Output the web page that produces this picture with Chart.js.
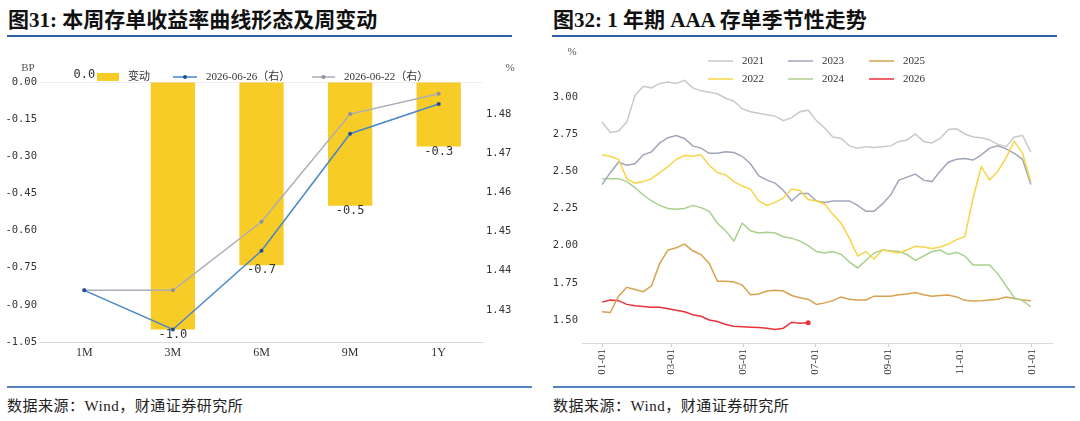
<!DOCTYPE html>
<html>
<head>
<meta charset="utf-8">
<script src="https://cdn.jsdelivr.net/npm/chart.js@4.4.0/dist/chart.umd.min.js"></script>
<style>
  body { margin: 0; background: #fff; width: 1080px; height: 421px; position: relative; overflow: hidden;
         font-family: "Liberation Serif", "Noto Sans CJK SC", serif; }
  .title { position: absolute; top: 8px; font-size: 21px; line-height: 24px; font-weight: bold; color: #111; white-space: nowrap; }
  .rule { position: absolute; height: 2px; }
  .src { position: absolute; top: 396px; font-size: 15px; line-height: 20px; color: #222; letter-spacing: 0.5px; white-space: nowrap; }
  canvas { position: absolute; top: 40px; }
</style>
</head>
<body>
<div class="title" style="left:8px">图31: 本周存单收益率曲线形态及周变动</div>
<div class="rule" style="left:7px;width:505px;top:35px;background:#2E62A8"></div>
<div class="title" style="left:553px">图32: 1 年期 AAA 存单季节性走势</div>
<div class="rule" style="left:552px;width:505px;top:35px;background:#2E62A8"></div>

<canvas id="curve" width="540" height="340" style="left:0"></canvas>
<canvas id="season" width="540" height="340" style="left:540px"></canvas>

<div class="rule" style="left:7px;width:525px;top:386px;background:#5582BE"></div>
<div class="rule" style="left:553px;width:522px;top:386px;background:#5582BE"></div>
<div class="src" style="left:7px">数据来源：Wind，财通证券研究所</div>
<div class="src" style="left:553px">数据来源：Wind，财通证券研究所</div>

<script>
// ---- fig 31 data
const tenors = ['1M', '3M', '6M', '9M', '1Y'];
const weeklyChange = [0.0, -1.0, -0.74, -0.5, -0.26];      // BP
const rate0626 = [1.4350, 1.4250, 1.4451, 1.4750, 1.4826]; // %
const rate0622 = [1.4350, 1.4350, 1.4525, 1.4800, 1.4852]; // %
const bpTicks = [-1.05, -0.90, -0.75, -0.60, -0.45, -0.30, -0.15, 0.00];
const pctTicks = [1.43, 1.44, 1.45, 1.46, 1.47, 1.48];

// ---- fig 32 data (weekly, day of year)
const days = [0, 7, 14, 21, 28, 35, 42, 49, 56, 63, 70, 77, 84, 91, 98, 105, 112, 119, 126, 133,
  140, 147, 154, 161, 168, 175, 182, 189, 196, 203, 210, 217, 224, 231, 238, 245, 252, 259, 266,
  273, 280, 287, 294, 301, 308, 315, 322, 329, 336, 343, 350, 357, 364];
const y2021 = [2.83, 2.76, 2.77, 2.83, 3.01, 3.07, 3.06, 3.09, 3.10, 3.09, 3.11, 3.06, 3.04, 3.03,
  3.02, 2.99, 2.97, 2.92, 2.90, 2.89, 2.88, 2.87, 2.84, 2.86, 2.90, 2.91, 2.84, 2.79, 2.73, 2.72,
  2.67, 2.655, 2.665, 2.66, 2.665, 2.67, 2.70, 2.71, 2.75, 2.70, 2.69, 2.72, 2.78, 2.785, 2.75,
  2.73, 2.725, 2.71, 2.68, 2.665, 2.73, 2.74, 2.63];
const y2022 = [2.61, 2.60, 2.58, 2.45, 2.42, 2.43, 2.45, 2.49, 2.53, 2.58, 2.605, 2.60, 2.61, 2.54,
  2.49, 2.475, 2.43, 2.40, 2.38, 2.30, 2.27, 2.29, 2.32, 2.38, 2.37, 2.31, 2.30, 2.28, 2.21, 2.15,
  2.05, 1.93, 1.96, 1.91, 1.97, 1.96, 1.95, 1.97, 1.995, 1.99, 1.98, 1.99, 2.01, 2.04, 2.06, 2.32,
  2.53, 2.44, 2.50, 2.59, 2.70, 2.62, 2.43];
const y2023 = [2.41, 2.49, 2.56, 2.54, 2.55, 2.61, 2.63, 2.69, 2.725, 2.74, 2.72, 2.67, 2.655, 2.62,
  2.62, 2.63, 2.625, 2.60, 2.55, 2.47, 2.44, 2.42, 2.37, 2.30, 2.35, 2.35, 2.30, 2.29, 2.30, 2.30,
  2.30, 2.27, 2.23, 2.23, 2.28, 2.34, 2.44, 2.46, 2.48, 2.44, 2.43, 2.50, 2.56, 2.58, 2.585, 2.575,
  2.61, 2.655, 2.67, 2.65, 2.62, 2.58, 2.41];
const y2024 = [2.45, 2.45, 2.45, 2.43, 2.39, 2.34, 2.30, 2.27, 2.25, 2.245, 2.25, 2.27, 2.255, 2.23,
  2.15, 2.10, 2.03, 2.15, 2.10, 2.085, 2.09, 2.085, 2.06, 2.05, 2.03, 2.00, 1.96, 1.95, 1.96, 1.94,
  1.89, 1.85, 1.90, 1.95, 1.97, 1.965, 1.96, 1.94, 1.90, 1.93, 1.96, 1.97, 1.94, 1.955, 1.93, 1.87,
  1.87, 1.87, 1.81, 1.73, 1.65, 1.63, 1.59];
const y2025 = [1.555, 1.55, 1.66, 1.72, 1.705, 1.69, 1.73, 1.88, 1.97, 1.985, 2.01, 1.965, 1.94,
  1.88, 1.76, 1.76, 1.755, 1.735, 1.67, 1.675, 1.695, 1.70, 1.695, 1.665, 1.65, 1.64, 1.605, 1.615,
  1.63, 1.655, 1.64, 1.635, 1.635, 1.66, 1.66, 1.66, 1.67, 1.675, 1.685, 1.67, 1.66, 1.665, 1.668,
  1.655, 1.632, 1.628, 1.63, 1.635, 1.64, 1.655, 1.645, 1.635, 1.63];
const y2026 = [1.62, 1.635, 1.63, 1.605, 1.595, 1.59, 1.585, 1.585, 1.575, 1.565, 1.555, 1.535,
  1.525, 1.50, 1.49, 1.47, 1.458, 1.455, 1.452, 1.45, 1.445, 1.437, 1.445, 1.485, 1.478, 1.482];
const seasonTickDays = [0, 59, 120, 181, 243, 304, 365];
const seasonTickLabels = ['01-01', '03-01', '05-01', '07-01', '09-01', '11-01', '01-01'];
const rateTicks = [1.50, 1.75, 2.00, 2.25, 2.50, 2.75, 3.00];

const numFont = { family: '"DejaVu Sans Mono", monospace', size: 10.5 };
const serifFont = '11px "Liberation Serif", "Noto Sans CJK SC"';

// legend + unit labels, drawn by hand so the layout matches the report
const handLegend = {
  id: 'handLegend',
  afterDraw(chart, args, opts) {
    const ctx = chart.ctx;
    ctx.save();
    ctx.font = serifFont;
    ctx.textBaseline = 'middle';
    chart.data.datasets.forEach((ds, i) => {
      const s = opts.slots[i];
      if (ds.type === 'bar') {
        ctx.fillStyle = ds.backgroundColor;
        ctx.fillRect(s.x, s.y - 4, s.w, 8);
      } else {
        ctx.strokeStyle = ds.borderColor;
        ctx.lineWidth = 1.5;
        ctx.beginPath();
        ctx.moveTo(s.x, s.y);
        ctx.lineTo(s.x + s.w, s.y);
        ctx.stroke();
        if (opts.dots) {
          ctx.fillStyle = ds.pointBackgroundColor;
          ctx.beginPath();
          ctx.arc(s.x + s.w / 2, s.y, 2, 0, Math.PI * 2);
          ctx.fill();
        }
      }
      ctx.fillStyle = '#333';
      ctx.textAlign = 'left';
      ctx.fillText(ds.label, s.x + s.w + opts.gap, s.y);
    });
    ctx.fillStyle = '#555';
    ctx.textAlign = 'center';
    opts.units.forEach(u => ctx.fillText(u.text, u.x, u.y));
    ctx.restore();
  }
};

const barValues = {
  id: 'barValues',
  afterDatasetsDraw(chart) {
    const ctx = chart.ctx;
    const meta = chart.getDatasetMeta(0);
    ctx.save();
    ctx.font = '12px "DejaVu Sans Mono", monospace';
    ctx.fillStyle = '#333';
    ctx.textAlign = 'center';
    ctx.textBaseline = 'middle';
    meta.data.forEach((bar, i) => {
      const v = weeklyChange[i];
      ctx.fillText(v.toFixed(1), bar.x, v < 0 ? bar.y + 5 : bar.y - 7);
    });
    ctx.restore();
  }
};

new Chart(document.getElementById('curve'), {
  data: {
    labels: tenors,
    datasets: [
      { type: 'bar', label: '变动', data: weeklyChange, yAxisID: 'y', order: 3,
        backgroundColor: '#F8CC26', barPercentage: 0.5, categoryPercentage: 1 },
      { type: 'line', label: '2026-06-26（右）', data: rate0626, yAxisID: 'y1', order: 1,
        borderColor: '#4A86C8', borderWidth: 1.5, pointRadius: 2, pointBorderWidth: 0,
        pointBackgroundColor: '#1F4E9B' },
      { type: 'line', label: '2026-06-22（右）', data: rate0622, yAxisID: 'y1', order: 2,
        borderColor: '#A9ADB9', borderWidth: 1.5, pointRadius: 2, pointBorderWidth: 0,
        pointBackgroundColor: '#8C919E' },
    ],
  },
  options: {
    responsive: false,
    animation: false,
    events: [],
    layout: { padding: { top: 42, left: 0, right: 0, bottom: 0 } },
    scales: {
      x: {
        grid: { display: false, drawTicks: false },
        border: { display: true, color: '#DADADA' },
        ticks: { padding: 4, color: '#333', font: { family: '"Liberation Serif"', size: 12 } },
        afterFit: s => { s.height = 38; },
      },
      y: {
        position: 'left',
        min: -1.05, max: 0,
        afterBuildTicks: s => { s.ticks = bpTicks.map(v => ({ value: v })); },
        grid: { drawTicks: false, color: c => (c.tick && c.tick.value === 0 ? '#EFEFEF' : 'rgba(0,0,0,0)') },
        border: { display: false },
        ticks: { padding: 3, color: '#333', font: numFont, callback: v => v.toFixed(2) },
        afterFit: s => { s.width = 40; },
      },
      y1: {
        position: 'right',
        min: 1.4218, max: 1.4882,
        afterBuildTicks: s => { s.ticks = pctTicks.map(v => ({ value: v })); },
        grid: { display: false, drawTicks: false },
        border: { display: false },
        ticks: { padding: 3, color: '#333', font: numFont, callback: v => v.toFixed(2) },
        afterFit: s => { s.width = 57; },
      },
    },
    plugins: {
      legend: { display: false },
      tooltip: { enabled: false },
      handLegend: {
        gap: 9, dots: true,
        slots: [{ x: 97, y: 37, w: 22 }, { x: 173, y: 37, w: 24 }, { x: 312, y: 37, w: 23 }],
        units: [{ text: 'BP', x: 28, y: 28 }, { text: '%', x: 510, y: 28 }],
      },
    },
  },
  plugins: [handLegend, barValues],
});

const series = [
  ['2021', y2021, '#C9C9C9'],
  ['2022', y2022, '#F6D548'],
  ['2023', y2023, '#A0A5BA'],
  ['2024', y2024, '#AAD08E'],
  ['2025', y2025, '#D6A24E'],
  ['2026', y2026, '#E8333A'],
];

new Chart(document.getElementById('season'), {
  type: 'line',
  data: {
    datasets: series.map(([name, vals, color]) => ({
      type: 'line',
      label: name,
      data: vals.map((v, i) => ({ x: days[i], y: v })),
      borderColor: color,
      pointBackgroundColor: color,
      borderWidth: 1.5,
      pointBorderWidth: 0,
      pointRadius: c => (name === '2026' && c.dataIndex === vals.length - 1 ? 2.5 : 0),
    })),
  },
  options: {
    responsive: false,
    animation: false,
    events: [],
    layout: { padding: { top: 30, left: 0, right: 28, bottom: 0 } },
    scales: {
      x: {
        type: 'linear',
        min: -17, max: 382,
        afterBuildTicks: s => { s.ticks = seasonTickDays.map(v => ({ value: v })); },
        grid: { display: true, drawOnChartArea: false, drawTicks: true, tickLength: 4, color: '#D0D0D0' },
        border: { display: true, color: '#DADADA' },
        ticks: { padding: 2, minRotation: 90, maxRotation: 90, color: '#333',
                 font: { family: '"Liberation Serif"', size: 11 },
                 callback: (v, i) => seasonTickLabels[i] },
        afterFit: s => { s.height = 37; },
      },
      y: {
        min: 1.3454, max: 3.18,
        afterBuildTicks: s => { s.ticks = rateTicks.map(v => ({ value: v })); },
        grid: { display: false, drawTicks: false },
        border: { display: false },
        ticks: { padding: 4, color: '#333', font: numFont, callback: v => v.toFixed(2) },
        afterFit: s => { s.width = 42; },
      },
    },
    plugins: {
      legend: { display: false },
      tooltip: { enabled: false },
      handLegend: {
        gap: 9, dots: false,
        slots: [{ x: 168, y: 21, w: 25 }, { x: 168, y: 39, w: 25 }, { x: 248, y: 21, w: 25 },
                { x: 248, y: 39, w: 25 }, { x: 329, y: 21, w: 25 }, { x: 329, y: 39, w: 25 }],
        units: [{ text: '%', x: 32, y: 12 }],
      },
    },
  },
  plugins: [handLegend],
});
</script>
</body>
</html>
